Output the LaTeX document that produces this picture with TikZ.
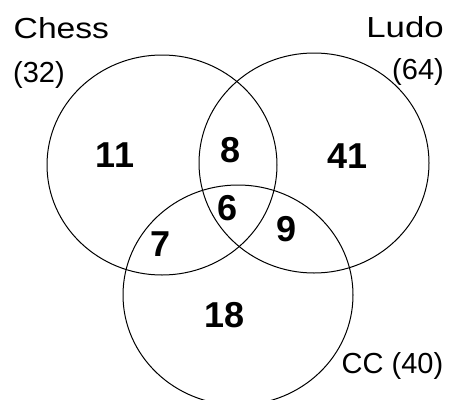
\documentclass[tikz,border=0pt]{standalone}
\usepackage{fontspec}
\setmainfont{Liberation Sans}
\usetikzlibrary{shapes.geometric}
\begin{document}
\begin{tikzpicture}[x=1pt,y=-1pt,
  setring/.style={draw=black, line width=1pt, ellipse, minimum width=230pt, minimum height=220pt, inner sep=0pt},
  setlabel/.style={inner sep=0pt, font=\fontsize{29}{32}\selectfont},
  count/.style={inner sep=0pt, anchor=base, font=\fontsize{36}{38}\selectfont\bfseries}]
\useasboundingbox (0,0) rectangle (457,399);
\node[setring] (chess) at (162,165) {};
\node[setring] (ludo) at (314,163) {};
\node[setring] (cc) at (238,295) {};
% labels
\node[setlabel, anchor=base west, xscale=1.16] (lchess) at (13.5,38) {Chess};
\node[setlabel, anchor=base west] (nchess) at (13,82) {(32)};
\node[setlabel, anchor=base east, xscale=1.2] (lludo) at (444,37) {Ludo};
\node[setlabel, anchor=base east] (nludo) at (444,79) {(64)};
\node[setlabel, anchor=base west] (lcc) at (341.5,373) {CC (40)};
% counts
\node[count] (c11) at (115,167) {11};
\node[count] (c8) at (230.5,162) {8};
\node[count] (c41) at (347.5,168) {41};
\node[count] (c6) at (227.5,220) {6};
\node[count] (c9) at (287,241) {9};
\node[count] (c7) at (161,256) {7};
\node[count] (c18) at (225,327) {18};
\end{tikzpicture}
\end{document}
